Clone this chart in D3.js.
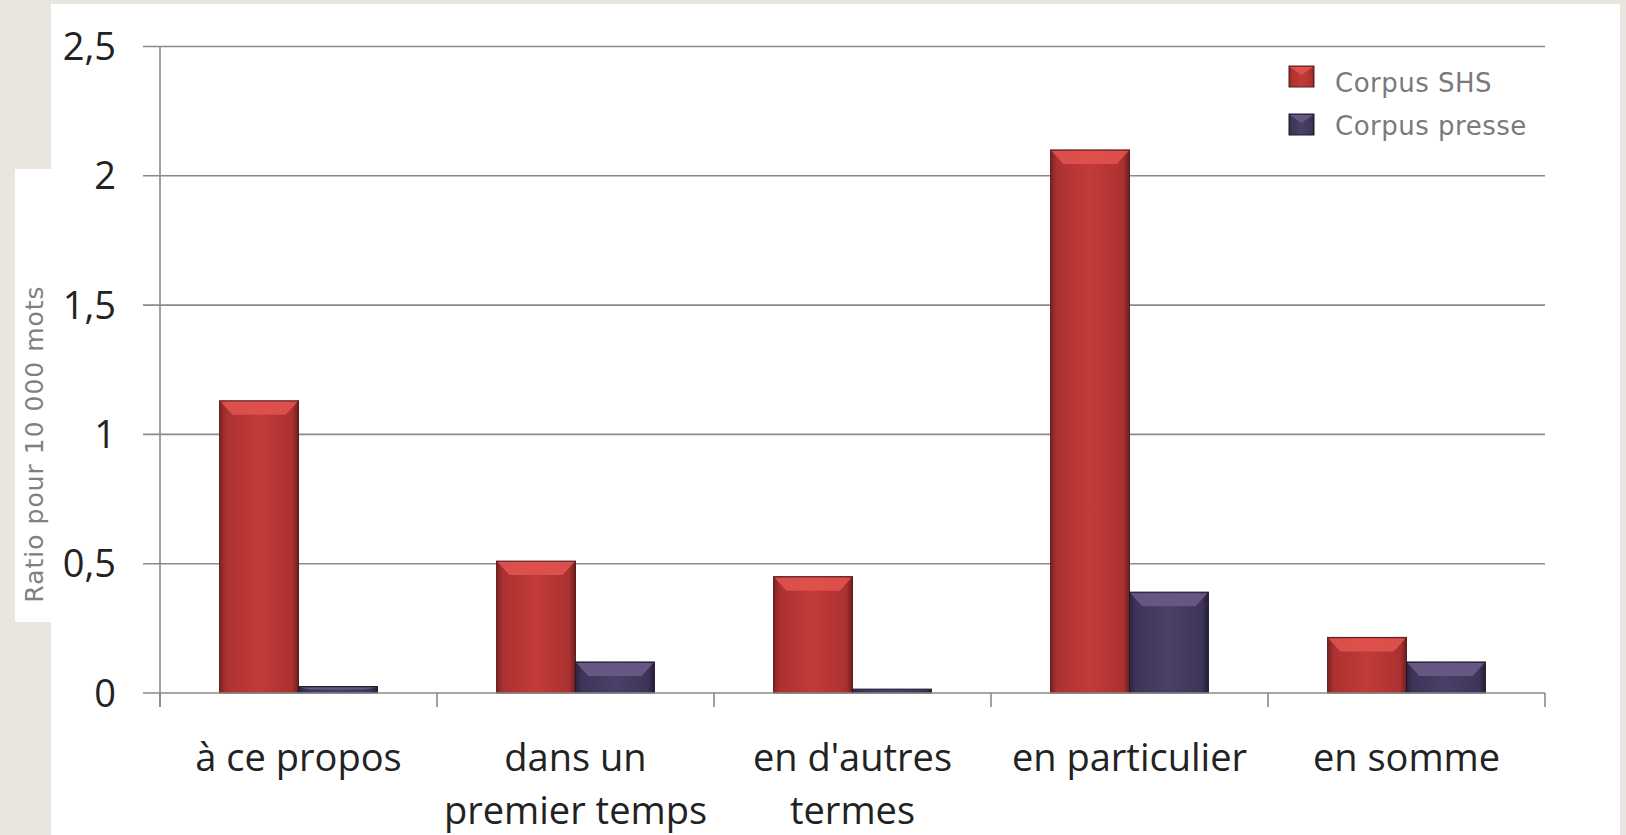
<!DOCTYPE html>
<html><head><meta charset="utf-8">
<script src="https://cdn.jsdelivr.net/npm/d3@7"></script>
<style>html,body{margin:0;padding:0;background:#e9e6e0;}svg{display:block;}</style>
</head><body>
<svg id="c" width="1626" height="835"></svg>
<script>
const categories = ["à ce propos", "dans un|premier temps", "en d'autres|termes", "en particulier", "en somme"];
const seriesNames = ["Corpus SHS", "Corpus presse"];
const shs = [1.13, 0.51, 0.45, 2.10, 0.215];
const presse = [0.025, 0.12, 0.015, 0.39, 0.12];
const yTicks = [0, 0.5, 1, 1.5, 2, 2.5];
const yTickLabels = ["0", "0,5", "1", "1,5", "2", "2,5"];
const yTitle = "Ratio pour 10 000 mots";

(function(){
const svg = d3.select("#c");
svg.append("rect").attr("x",0).attr("y",0).attr("width",1626).attr("height",835).attr("fill","#e9e6e0");
svg.append("rect").attr("x",51).attr("y",4).attr("width",1569).attr("height",831).attr("fill","#fff");
svg.append("rect").attr("x",15).attr("y",169).attr("width",40).attr("height",453).attr("fill","#fff");

const pL = 160, pR = 1545, pT = 46.5, pB = 693;
const x = d3.scaleBand().domain(categories).range([pL, pR]).paddingInner(0).paddingOuter(0);
const y = d3.scaleLinear().domain([0, 2.5]).range([pB, pT]);
const inner = d3.scaleBand().domain(seriesNames).range([0, x.bandwidth()]).paddingOuter(0.755).paddingInner(0);

const defs = svg.append("defs");
function grad(id, stops){
  const g = defs.append("linearGradient").attr("id", id).attr("x1","0").attr("x2","1").attr("y1","0").attr("y2","0");
  stops.forEach(s => g.append("stop").attr("offset", s[0]).attr("stop-color", s[1]));
}
grad("gRed", [[0,"#7e2222"],[0.08,"#ab3131"],[0.5,"#c23b38"],[0.92,"#ab3131"],[1,"#6e1e1e"]]);
grad("gBlue", [[0,"#2c2440"],[0.08,"#3e3458"],[0.5,"#4a3f66"],[0.92,"#3e3458"],[1,"#251e36"]]);
const topCol = {"Corpus SHS":"#e0534f", "Corpus presse":"#6a5a88"};
const fillId = {"Corpus SHS":"url(#gRed)", "Corpus presse":"url(#gBlue)"};
const edgeCol = {"Corpus SHS":"#5a1c1c", "Corpus presse":"#1e1a2c"};

const grid = svg.append("g");
yTicks.slice(1).forEach(t => {
  grid.append("line").attr("x1", pL - 17).attr("x2", pR).attr("y1", y(t)).attr("y2", y(t))
    .attr("stroke", "#8a8a8a").attr("stroke-width", 1.6);
});

const data = [];
categories.forEach((c, i) => {
  data.push({c, s: "Corpus SHS", v: shs[i]});
  data.push({c, s: "Corpus presse", v: presse[i]});
});
const bars = svg.append("g");
data.forEach(d => {
  const bx = x(d.c) + inner(d.s), bw = inner.bandwidth();
  const by = y(d.v), bh = y(0) - y(d.v);
  const g = bars.append("g");
  g.append("rect").attr("x", bx).attr("y", by).attr("width", bw).attr("height", bh)
    .attr("fill", fillId[d.s]).attr("stroke", edgeCol[d.s]).attr("stroke-width", 1);
  const bev = Math.min(14, bh * 0.45), ins = Math.min(12, bw * 0.15);
  if (bh > 4) {
    g.append("path").attr("d", `M${bx+1},${by+1} L${bx+bw-1},${by+1} L${bx+bw-1-ins},${by+bev} L${bx+1+ins},${by+bev} Z`)
      .attr("fill", topCol[d.s]).attr("opacity", 0.9);
  }
});

const ax = svg.append("g");
ax.append("line").attr("x1", pL).attr("x2", pL).attr("y1", pT).attr("y2", pB + 14).attr("stroke", "#8a8a8a").attr("stroke-width", 1.6);
ax.append("line").attr("x1", pL - 17).attr("x2", pR).attr("y1", pB).attr("y2", pB).attr("stroke", "#8a8a8a").attr("stroke-width", 1.6);
const bounds = categories.map(c => x(c)).concat([pR]);
bounds.forEach(b => ax.append("line").attr("x1", b).attr("x2", b).attr("y1", pB).attr("y2", pB + 14).attr("stroke", "#8a8a8a").attr("stroke-width", 1.6));

yTicks.forEach((t, i) => {
  ax.append("text").attr("x", 116).attr("y", y(t)).attr("dy", "0.36em").attr("text-anchor", "end")
    .attr("font-family", "'Open Sans', sans-serif").attr("font-size", 38).attr("fill", "#222").text(yTickLabels[i]);
});

categories.forEach(c => {
  const lines = c.split("|");
  const t = ax.append("text").attr("text-anchor", "middle").attr("font-family", "'Open Sans', sans-serif")
    .attr("font-size", 38).attr("fill", "#222");
  lines.forEach((l, j) => t.append("tspan").attr("x", x(c) + x.bandwidth() / 2).attr("y", 771 + j * 53).text(l));
});

svg.append("text").attr("transform", `translate(43,444) rotate(-90)`).attr("text-anchor", "middle")
  .attr("font-family", "'DejaVu Sans', sans-serif").attr("font-size", 25).attr("letter-spacing", 1)
  .attr("fill", "#808080").text(yTitle);

const leg = svg.append("g");
const legY = [66, 114], legTextY = [91.5, 134.5];
seriesNames.forEach((s, i) => {
  const ly = legY[i];
  leg.append("rect").attr("x", 1289).attr("y", ly).attr("width", 25).attr("height", 21).attr("fill", fillId[s]).attr("stroke", edgeCol[s]).attr("stroke-width", 1);
  leg.append("path").attr("d", `M1290,${ly+1} L1313,${ly+1} L1301.5,${ly+9} Z`).attr("fill", topCol[s]).attr("opacity", 0.9);
  leg.append("text").attr("x", 1335).attr("y", legTextY[i]).attr("font-family", "'DejaVu Sans', sans-serif")
    .attr("font-size", 26).attr("letter-spacing", 0.5).attr("fill", "#7a7a7a").text(s);
});
})();
</script>
</body></html>
